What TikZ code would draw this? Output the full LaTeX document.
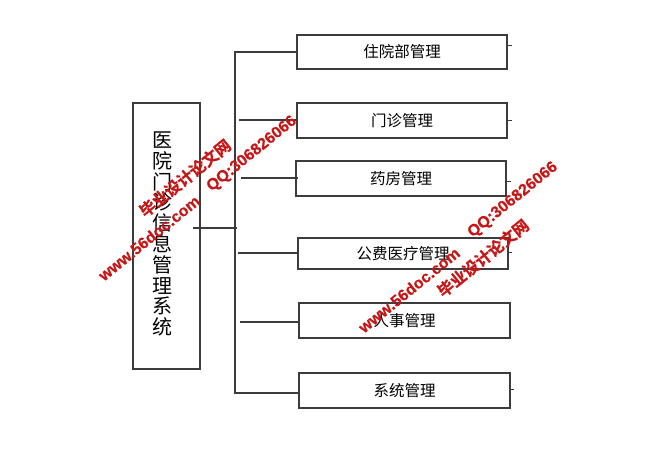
\documentclass[tikz,border=0pt]{standalone}
\usepackage{fontspec}
\newfontfamily\cjk{Noto Sans CJK SC}
\newfontfamily\cjkb{Noto Sans CJK SC Bold}[FakeBold=0.8]
\newfontfamily\wmlat{Liberation Sans Bold}[FakeBold=0.4]
\definecolor{wmred}{RGB}{200,22,22}
\definecolor{linegray}{RGB}{60,60,60}
\begin{document}
\begin{tikzpicture}[x=1pt,y=-1pt,
  modbox/.style={draw=linegray, line width=1.2pt, minimum width=210pt, minimum height=34pt, inner sep=0pt, font=\cjk\fontsize{15.5}{18}\selectfont},
  sysbox/.style={draw=linegray, line width=1.2pt, minimum width=67pt, minimum height=266pt, inner sep=0pt},
  systext/.style={align=center, inner sep=0pt, font=\cjk\fontsize{20}{20.8}\selectfont},
  link/.style={draw=linegray, line width=1.2pt},
  tick/.style={draw=linegray, line width=1pt},
  wmcn/.style={text=wmred, rotate=39, inner sep=0pt, font=\cjkb\fontsize{16}{18}\selectfont},
  wmen/.style={text=wmred, rotate=39, inner sep=0pt, font=\wmlat\fontsize{16}{18}\selectfont}
]
\useasboundingbox[fill=white] (0,0) rectangle (671,461);

% system box
\node[sysbox] (sys) at (166.5,236) {};
\node[systext] (systxt) at (162,234) {医\\院\\门\\诊\\信\\息\\管\\理\\系\\统};

% module boxes
\node[modbox] (b1) at (402,52) {住院部管理};
\node[modbox, minimum height=35pt] (b2) at (402,120.5) {门诊管理};
\node[modbox, minimum height=35pt] (b3) at (401,178.5) {药房管理};
\node[modbox, minimum height=31pt] (b4) at (403,253.5) {公费医疗管理};
\node[modbox, minimum width=211pt, minimum height=35pt] (b5) at (404.5,320.5) {人事管理};
\node[modbox, minimum width=211pt, minimum height=35pt] (b6) at (404.5,390.5) {系统管理};

% bus
\coordinate (top) at (235,52);
\coordinate (bot) at (235,393);
\draw[link] (b1.west |- top) -- (top) -- (bot) -- (bot -| b6.west);

% main line from system box
\coordinate (m0) at (193,228);
\coordinate (m1) at (237,228);
\draw[link] (m0) -- (m1);

% branches
\coordinate (j2) at (239,120);
\coordinate (j3) at (241,178);
\coordinate (j4) at (238,253);
\coordinate (j5) at (240,322);
\draw[link] (j2) -- (j2 -| b2.west);
\draw[link] (j3) -- ([xshift=3pt]j3 -| b3.west);
\draw[link] (j4) -- (j4 -| b4.west);
\draw[link] (j5) -- (j5 -| b5.west);

% small ticks at right edges
\coordinate (t1) at (507,45);
\coordinate (t2) at (507,120);
\coordinate (t3) at (506,181);
\coordinate (t4) at (508,252);
\coordinate (t6) at (510,389);
\draw[tick] (t1) -- ++(5,0);
\draw[tick] (t2) -- ++(5,0);
\draw[tick] (t3) -- ++(5,0);
\draw[tick] (t4) -- ++(4,0);
\draw[tick] (t6) -- ++(4,0);

% watermarks
\node[wmcn] (w1) at (185,178) {毕业设计论文网};
\node[wmen] (w2) at (149,238) {www.56doc.com};
\node[wmen] (w3) at (252,154) {QQ:306826066};
\node[wmen] (w4) at (513,200) {QQ:306826066};
\node[wmcn] (w5) at (483,258) {毕业设计论文网};
\node[wmen] (w6) at (409,290) {www.56doc.com};
\end{tikzpicture}
\end{document}
